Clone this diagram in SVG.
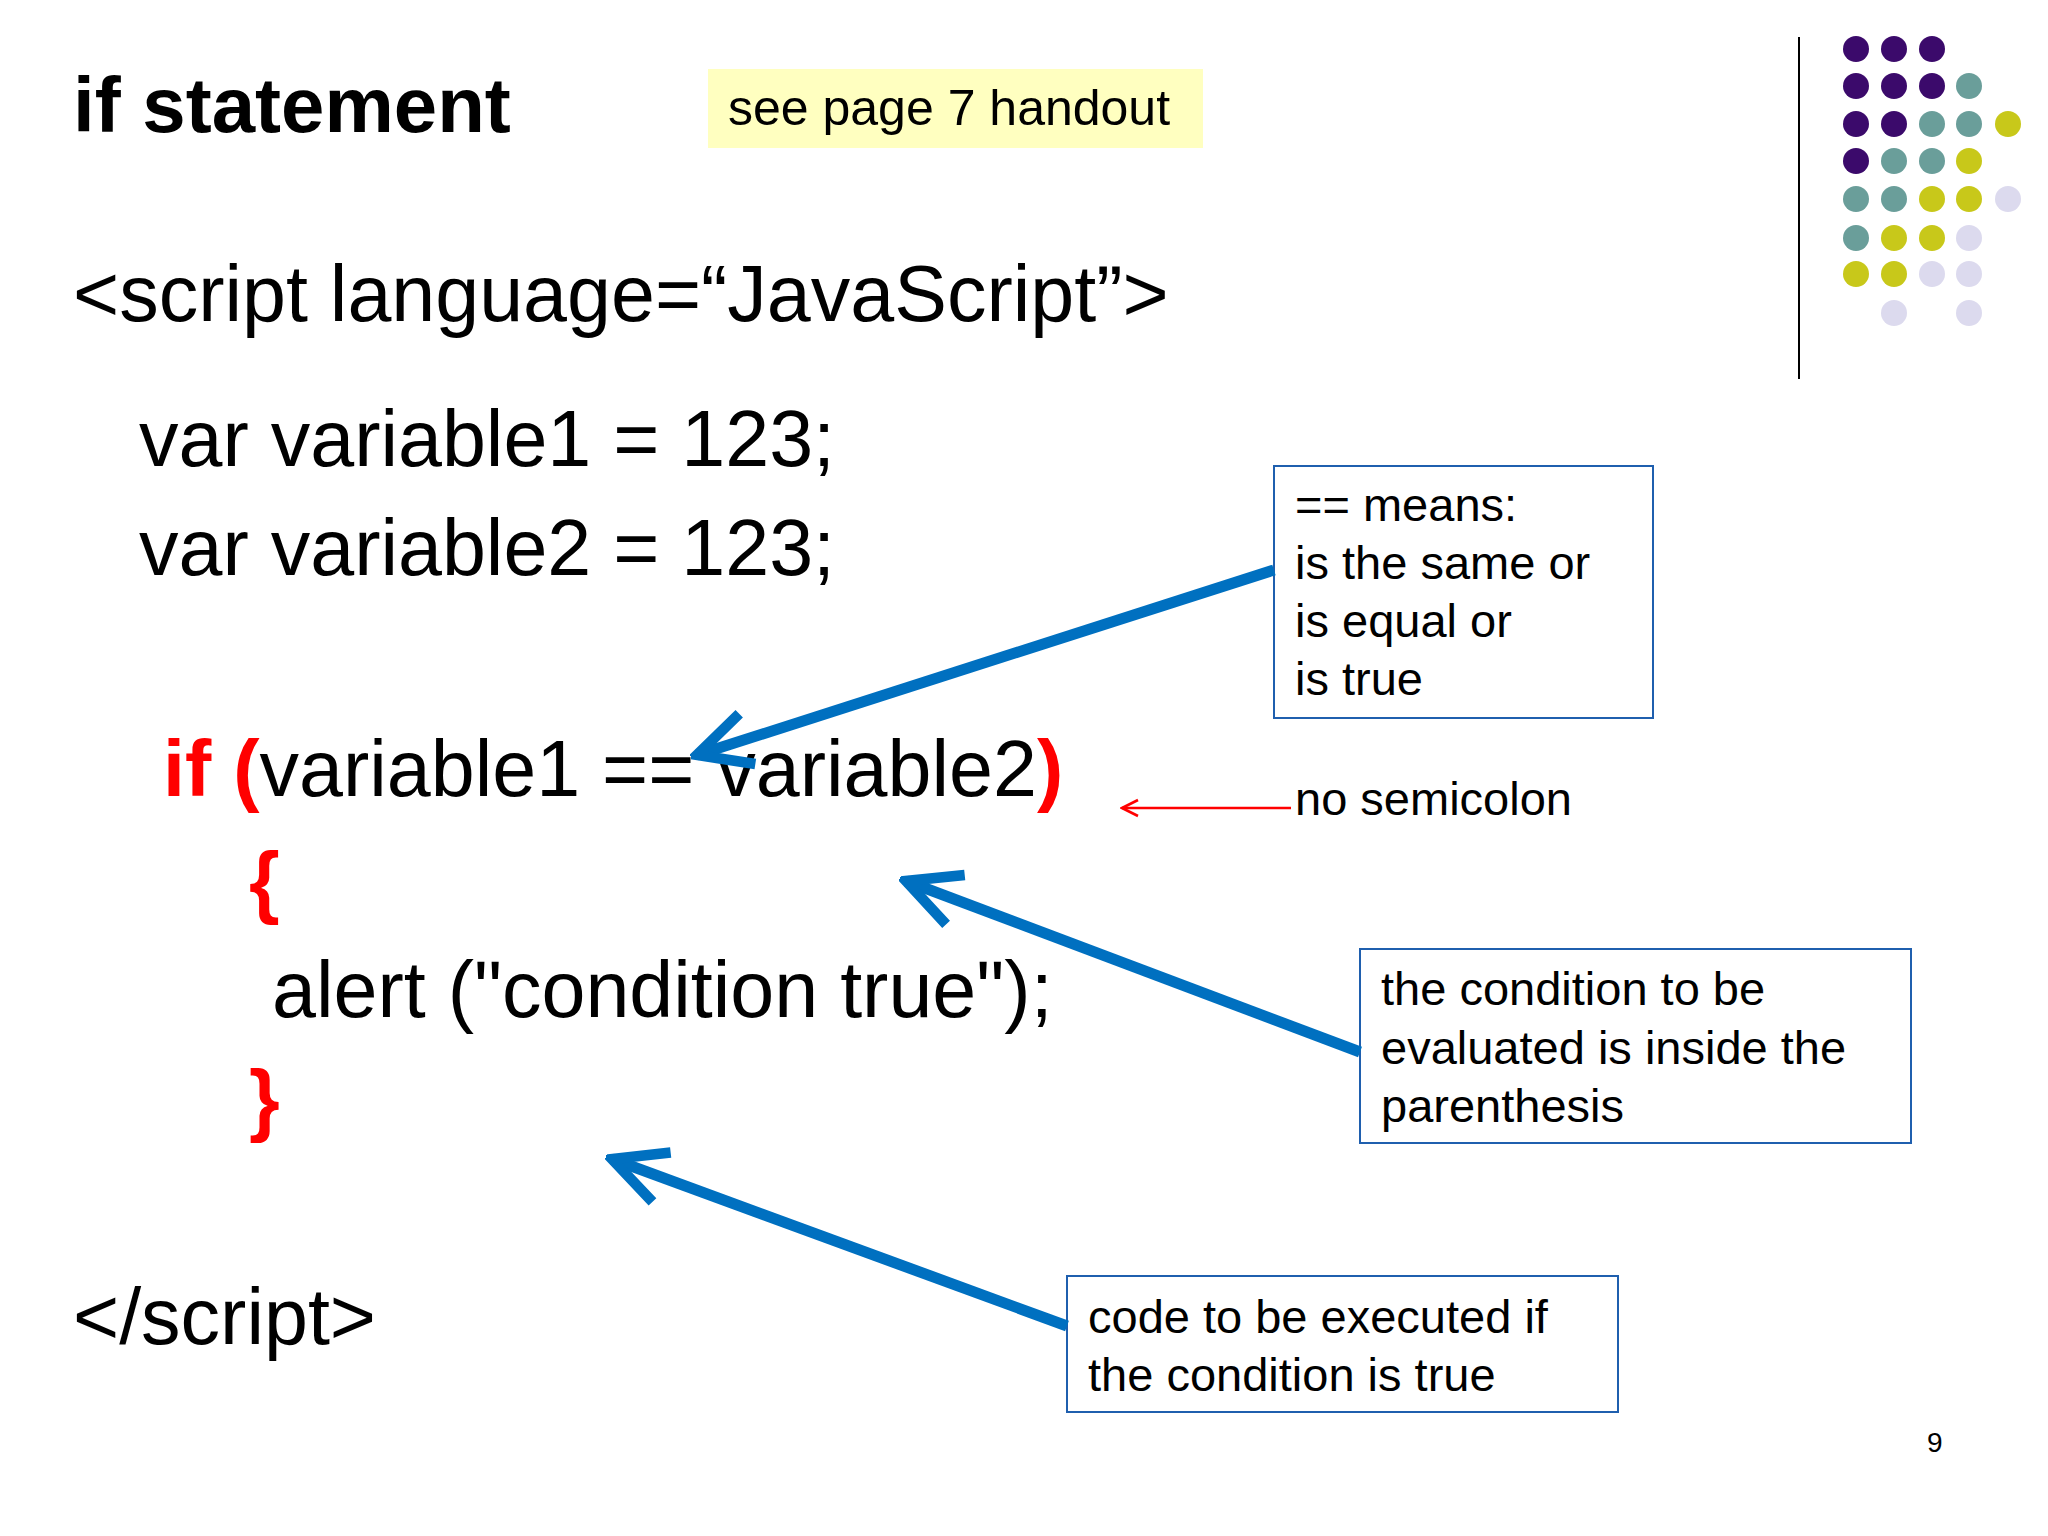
<svg xmlns="http://www.w3.org/2000/svg" width="2048" height="1536" viewBox="0 0 2048 1536">
<style>
text{font-family:"Liberation Sans",Arial,sans-serif;fill:#000}
.code{font-size:79px}
.note{font-size:47px}
.red{fill:#ff0000;font-weight:bold}
.box{fill:#fff;stroke:#1f5fae;stroke-width:2}
.blue{stroke:#0070c0;stroke-width:11;fill:none;marker-end:url(#open)}
.p{fill:#3b0a6b}.t{fill:#6a9e9a}.y{fill:#c8c81a}.l{fill:#dcdaee}
</style>
<defs>
<marker id="open" viewBox="0 0 10 10" refX="9" refY="5" markerWidth="6" markerHeight="6" orient="auto" markerUnits="strokeWidth">
<path d="M1,1 L9,5 L1,9" fill="none" stroke="#0070c0" stroke-width="1.6"/>
</marker>
<marker id="redA" viewBox="0 0 10 10" refX="9" refY="5" markerWidth="20" markerHeight="20" orient="auto" markerUnits="userSpaceOnUse">
<path d="M1,1 L9,5 L1,9" fill="none" stroke="#ff0000" stroke-width="1.3"/>
</marker>
</defs>
<rect width="2048" height="1536" fill="#fff"/>
<g id="title"><text x="73" y="132" font-size="78" font-weight="bold">if statement</text></g>
<g id="handout"><rect x="708" y="69" width="495" height="79" fill="#ffffc0"/><text x="728" y="125" font-size="50">see page 7 handout</text></g>
<line x1="1799" y1="37" x2="1799" y2="379" stroke="#000" stroke-width="2"/>
<g id="dots">
<circle class="p" cx="1856" cy="49" r="13"/><circle class="p" cx="1894" cy="49" r="13"/><circle class="p" cx="1932" cy="49" r="13"/>
<circle class="p" cx="1856" cy="86" r="13"/><circle class="p" cx="1894" cy="86" r="13"/><circle class="p" cx="1932" cy="86" r="13"/><circle class="t" cx="1969" cy="86" r="13"/>
<circle class="p" cx="1856" cy="124" r="13"/><circle class="p" cx="1894" cy="124" r="13"/><circle class="t" cx="1932" cy="124" r="13"/><circle class="t" cx="1969" cy="124" r="13"/><circle class="y" cx="2008" cy="124" r="13"/>
<circle class="p" cx="1856" cy="161" r="13"/><circle class="t" cx="1894" cy="161" r="13"/><circle class="t" cx="1932" cy="161" r="13"/><circle class="y" cx="1969" cy="161" r="13"/>
<circle class="t" cx="1856" cy="199" r="13"/><circle class="t" cx="1894" cy="199" r="13"/><circle class="y" cx="1932" cy="199" r="13"/><circle class="y" cx="1969" cy="199" r="13"/><circle class="l" cx="2008" cy="199" r="13"/>
<circle class="t" cx="1856" cy="238" r="13"/><circle class="y" cx="1894" cy="238" r="13"/><circle class="y" cx="1932" cy="238" r="13"/><circle class="l" cx="1969" cy="238" r="13"/>
<circle class="y" cx="1856" cy="274" r="13"/><circle class="y" cx="1894" cy="274" r="13"/><circle class="l" cx="1932" cy="274" r="13"/><circle class="l" cx="1969" cy="274" r="13"/>
<circle class="l" cx="1894" cy="313" r="13"/><circle class="l" cx="1969" cy="313" r="13"/>
</g>
<g id="code">
<text class="code" x="73" y="321">&lt;script language=“JavaScript”&gt;</text>
<text class="code" x="139" y="466">var variable1 = 123;</text>
<text class="code" x="139" y="575">var variable2 = 123;</text>
<text class="code" x="163" y="796"><tspan class="red">if (</tspan>variable1 == variable2<tspan class="red">)</tspan></text>
<text class="code red" x="249" y="908">{</text>
<text class="code" x="272" y="1017">alert ("condition true");</text>
<text class="code red" x="249" y="1126">}</text>
<text class="code" x="73" y="1344">&lt;/script&gt;</text>
</g>
<g id="note1"><rect class="box" x="1274" y="466" width="379" height="252"/>
<text class="note" x="1295" y="521">== means:</text><text class="note" x="1295" y="579">is the same or</text><text class="note" x="1295" y="637">is equal or</text><text class="note" x="1295" y="695">is true</text></g>
<g id="note2"><rect class="box" x="1360" y="949" width="551" height="194"/>
<text class="note" x="1381" y="1005">the condition to be</text><text class="note" x="1381" y="1064">evaluated is inside the</text><text class="note" x="1381" y="1122">parenthesis</text></g>
<g id="note3"><rect class="box" x="1067" y="1276" width="551" height="136"/>
<text class="note" x="1088" y="1333">code to be executed if</text><text class="note" x="1088" y="1391">the condition is true</text></g>
<g id="semi"><text class="note" x="1295" y="815">no semicolon</text></g>
<g id="connectors">
<line x1="1291" y1="808" x2="1122" y2="808" stroke="#ff0000" stroke-width="2.5" marker-end="url(#redA)"/>
<line class="blue" x1="1274" y1="570" x2="697" y2="755"/>
<line class="blue" x1="1360" y1="1052" x2="906" y2="881"/>
<line class="blue" x1="1067" y1="1326" x2="612" y2="1159"/>
</g>
<text x="1927" y="1452" font-size="28">9</text>
</svg>
